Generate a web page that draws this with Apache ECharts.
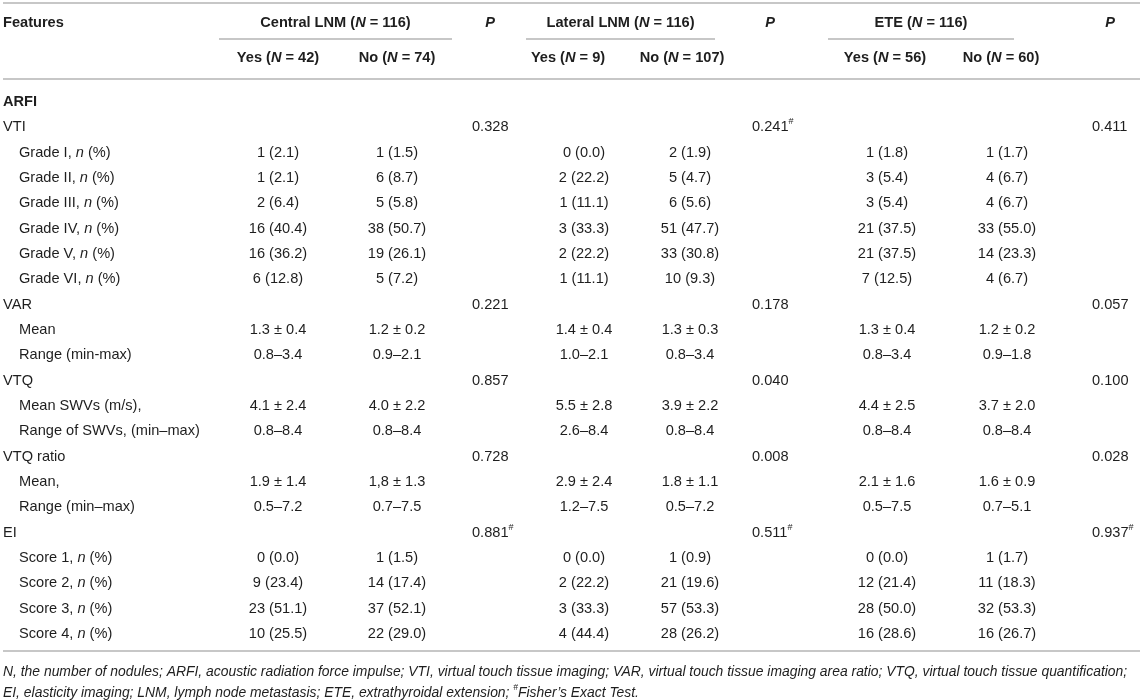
<!DOCTYPE html>
<html>
<head>
<meta charset="utf-8">
<script src="https://cdn.jsdelivr.net/npm/echarts@6/dist/echarts.min.js"></script>
<style>
html,body{margin:0;padding:0;background:#fff;}
#main{width:1143px;height:700px;}
</style>
</head>
<body>
<div id="main"></div>
<script>
// row labels, level 0 = section, 1 = variable, 2 = sub row
var features = ['ARFI', 'VTI', 'Grade I, n (%)', 'Grade II, n (%)', 'Grade III, n (%)', 'Grade IV, n (%)',
    'Grade V, n (%)', 'Grade VI, n (%)', 'VAR', 'Mean', 'Range (min-max)', 'VTQ', 'Mean SWVs (m/s),',
    'Range of SWVs, (min\u2013max)', 'VTQ ratio', 'Mean,', 'Range (min\u2013max)', 'EI',
    'Score 1, n (%)', 'Score 2, n (%)', 'Score 3, n (%)', 'Score 4, n (%)'];
var levels = [0, 1, 2, 2, 2, 2, 2, 2, 1, 2, 2, 1, 2, 2, 1, 2, 2, 1, 2, 2, 2, 2];

var centralYes = ['', '', '1 (2.1)', '1 (2.1)', '2 (6.4)', '16 (40.4)', '16 (36.2)', '6 (12.8)', '',
    '1.3 \u00b1 0.4', '0.8\u20133.4', '', '4.1 \u00b1 2.4', '0.8\u20138.4', '', '1.9 \u00b1 1.4', '0.5\u20137.2', '',
    '0 (0.0)', '9 (23.4)', '23 (51.1)', '10 (25.5)'];
var centralNo = ['', '', '1 (1.5)', '6 (8.7)', '5 (5.8)', '38 (50.7)', '19 (26.1)', '5 (7.2)', '',
    '1.2 \u00b1 0.2', '0.9\u20132.1', '', '4.0 \u00b1 2.2', '0.8\u20138.4', '', '1,8 \u00b1 1.3', '0.7\u20137.5', '',
    '1 (1.5)', '14 (17.4)', '37 (52.1)', '22 (29.0)'];
var centralP = ['', '0.328', '', '', '', '', '', '', '0.221', '', '', '0.857', '', '', '0.728', '', '', '0.881#',
    '', '', '', ''];
var lateralYes = ['', '', '0 (0.0)', '2 (22.2)', '1 (11.1)', '3 (33.3)', '2 (22.2)', '1 (11.1)', '',
    '1.4 \u00b1 0.4', '1.0\u20132.1', '', '5.5 \u00b1 2.8', '2.6\u20138.4', '', '2.9 \u00b1 2.4', '1.2\u20137.5', '',
    '0 (0.0)', '2 (22.2)', '3 (33.3)', '4 (44.4)'];
var lateralNo = ['', '', '2 (1.9)', '5 (4.7)', '6 (5.6)', '51 (47.7)', '33 (30.8)', '10 (9.3)', '',
    '1.3 \u00b1 0.3', '0.8\u20133.4', '', '3.9 \u00b1 2.2', '0.8\u20138.4', '', '1.8 \u00b1 1.1', '0.5\u20137.2', '',
    '1 (0.9)', '21 (19.6)', '57 (53.3)', '28 (26.2)'];
var lateralP = ['', '0.241#', '', '', '', '', '', '', '0.178', '', '', '0.040', '', '', '0.008', '', '', '0.511#',
    '', '', '', ''];
var eteYes = ['', '', '1 (1.8)', '3 (5.4)', '3 (5.4)', '21 (37.5)', '21 (37.5)', '7 (12.5)', '',
    '1.3 \u00b1 0.4', '0.8\u20133.4', '', '4.4 \u00b1 2.5', '0.8\u20138.4', '', '2.1 \u00b1 1.6', '0.5\u20137.5', '',
    '0 (0.0)', '12 (21.4)', '28 (50.0)', '16 (28.6)'];
var eteNo = ['', '', '1 (1.7)', '4 (6.7)', '4 (6.7)', '33 (55.0)', '14 (23.3)', '4 (6.7)', '',
    '1.2 \u00b1 0.2', '0.9\u20131.8', '', '3.7 \u00b1 2.0', '0.8\u20138.4', '', '1.6 \u00b1 0.9', '0.7\u20135.1', '',
    '1 (1.7)', '11 (18.3)', '32 (53.3)', '16 (26.7)'];
var eteP = ['', '0.411', '', '', '', '', '', '', '0.057', '', '', '0.100', '', '', '0.028', '', '', '0.937#',
    '', '', '', ''];

var groupNames = ['Central LNM', 'Lateral LNM', 'ETE'];
var groupN = [116, 116, 116];
var yesN = [42, 9, 56];
var noN = [74, 107, 60];

var footnotes = [
    'N, the number of nodules; ARFI, acoustic radiation force impulse; VTI, virtual touch tissue imaging; VAR, virtual touch tissue imaging area ratio; VTQ, virtual touch tissue quantification;',
    'EI, elasticity imaging; LNM, lymph node metastasis; ETE, extrathyroidal extension; #Fisher\u2019s Exact Test.'
];

// layout (pixels along the hidden x axis)
var yesX = [278, 584, 887];
var noX = [397, 690, 1007];
var yesHeadX = [278, 568, 885];
var noHeadX = [397, 682, 1001];
var pX = [472, 752, 1092];
var lineL = [219, 526, 828];
var lineR = [452, 715, 1014];

var valueCols = [[centralYes, centralNo, centralP], [lateralYes, lateralNo, lateralP], [eteYes, eteNo, eteP]];

var FONT = '"Liberation Sans", Arial, Helvetica, sans-serif';
var FS = 14.6;
var FN = 13.9;
var INK = '#1e1e1e';
var RULE = '#b4b4b4';

var rich = {
    r: {fontFamily: FONT, fontSize: FS, fill: INK},
    i: {fontFamily: FONT, fontSize: FS, fill: INK, fontStyle: 'italic'},
    b: {fontFamily: FONT, fontSize: FS, fill: INK, fontWeight: 'bold'},
    bi: {fontFamily: FONT, fontSize: FS, fill: INK, fontWeight: 'bold', fontStyle: 'italic'},
    sup: {fontFamily: FONT, fontSize: 9, fill: INK, verticalAlign: 'top', lineHeight: 20},
    fi: {fontFamily: FONT, fontSize: FN, fill: INK, fontStyle: 'italic'},
    fsup: {fontFamily: FONT, fontSize: 8.5, fill: INK, fontStyle: 'italic', verticalAlign: 'top', lineHeight: 19}
};

function labelText(s, lv) {
    if (lv === 0) return '{b|' + s + '}';
    return '{r|' + s.replace(', n (', ',}{r| }{i|n}{r| (') + '}';
}
function pText(s) {
    if (!s) return '';
    if (s.slice(-1) === '#') return '{r|' + s.slice(0, -1) + '}{sup|#}';
    return '{r|' + s + '}';
}
function txt(x, y, text, align) {
    return {
        type: 'text',
        style: {x: x, y: y, text: text, rich: rich, align: align || 'left', verticalAlign: 'middle',
            fontFamily: FONT, fontSize: FS, fill: INK}
    };
}
function rule(x1, x2, y, w) {
    return {type: 'line', shape: {x1: x1, y1: y, x2: x2, y2: y}, style: {stroke: RULE, lineWidth: w || 1.5}};
}

var rowIdx = features.map(function (f, i) { return i; });

var chart = echarts.init(document.getElementById('main'));
chart.setOption({
    animation: false,
    backgroundColor: '#fff',
    grid: {left: 0, right: 0, top: 89.33, bottom: 53.4},
    xAxis: {type: 'value', min: 0, max: 1143, show: false},
    yAxis: {type: 'category', data: rowIdx, inverse: true, show: false},
    series: [
        {
            // body rows
            type: 'custom',
            data: rowIdx.map(function (i) { return [0, i]; }),
            renderItem: function (params, api) {
                var i = api.value(1);
                var y = api.coord([0, i])[1];
                var kids = [txt(levels[i] === 2 ? 19 : 3, y, labelText(features[i], levels[i]))];
                valueCols.forEach(function (g, k) {
                    if (g[0][i]) kids.push(txt(api.coord([yesX[k], i])[0], y, '{r|' + g[0][i] + '}', 'center'));
                    if (g[1][i]) kids.push(txt(api.coord([noX[k], i])[0], y, '{r|' + g[1][i] + '}', 'center'));
                    if (g[2][i]) kids.push(txt(api.coord([pX[k], i])[0], y, pText(g[2][i])));
                });
                return {type: 'group', children: kids};
            }
        },
        {
            // header, rules and footnote
            type: 'custom',
            data: [[0, 0]],
            renderItem: function (params, api) {
                var top = api.coord([0, 0])[1];
                var last = api.coord([0, features.length - 1])[1];
                var xl = api.coord([3, 0])[0], xr = api.coord([1140, 0])[0];
                var kids = [rule(xl, xr, top - 99), rule(xl, xr, top - 23), rule(xl, xr, last + 17)];
                kids.push(txt(xl, top - 79, '{b|Features}'));
                groupNames.forEach(function (name, k) {
                    var l = api.coord([lineL[k], 0])[0], r = api.coord([lineR[k], 0])[0];
                    kids.push(rule(l, r, top - 63));
                    kids.push(txt((l + r) / 2, top - 79, '{b|' + name + ' (}{bi|N}{b| = ' + groupN[k] + ')}', 'center'));
                    kids.push(txt(api.coord([pX[k] + 18, 0])[0], top - 79, '{bi|P}', 'center'));
                    kids.push(txt(api.coord([yesHeadX[k], 0])[0], top - 44, '{b|Yes (}{bi|N}{b| = ' + yesN[k] + ')}', 'center'));
                    kids.push(txt(api.coord([noHeadX[k], 0])[0], top - 44, '{b|No (}{bi|N}{b| = ' + noN[k] + ')}', 'center'));
                });
                kids.push(txt(xl, last + 38, '{fi|' + footnotes[0] + '}'));
                var f2 = footnotes[1].split('#');
                kids.push(txt(xl, last + 59, '{fi|' + f2[0] + '}{fsup|#}{fi|' + f2[1] + '}'));
                return {type: 'group', children: kids};
            }
        }
    ]
});
</script>
</body>
</html>
